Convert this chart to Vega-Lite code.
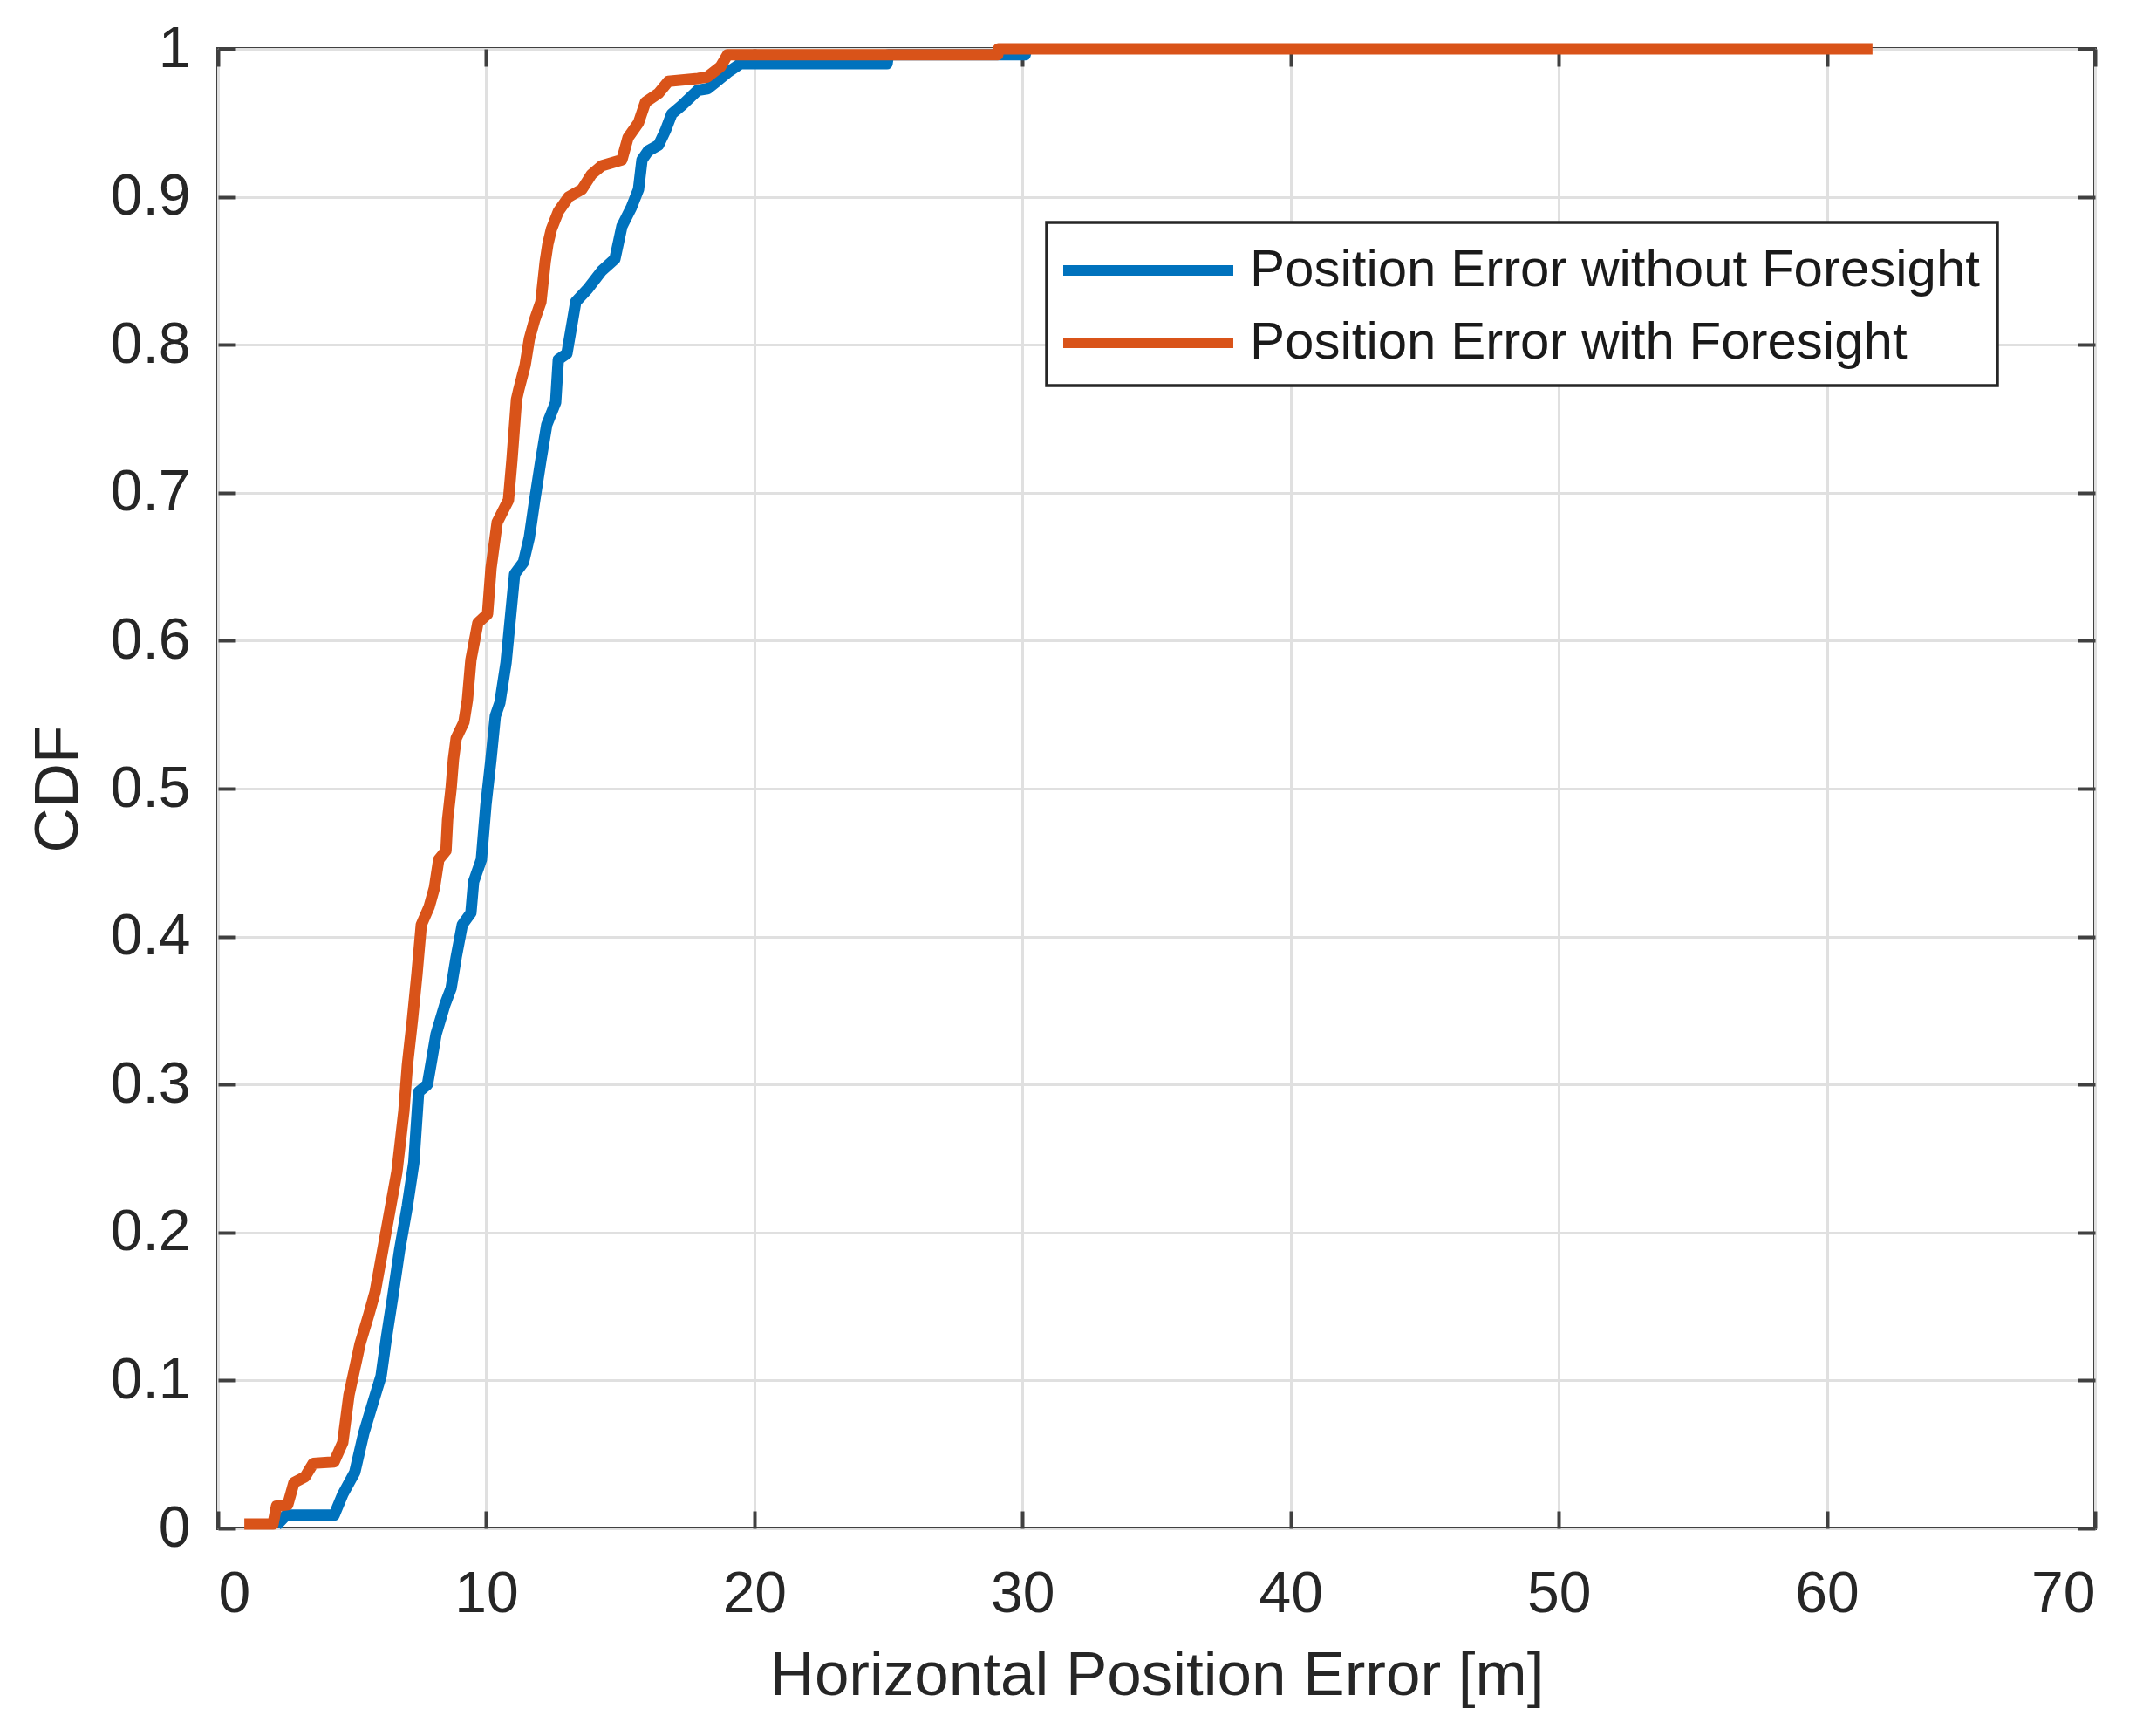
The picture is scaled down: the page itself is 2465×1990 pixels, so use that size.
{
  "$schema": "https://vega.github.io/schema/vega-lite/v6.json",
  "width": 2152,
  "height": 1696,
  "autosize": {"type": "none"},
  "padding": {"left": 250, "top": 56, "right": 63, "bottom": 238},
  "background": "white",
  "data": {"values": [
    {"e": 2.18, "cdf": 0.002, "s": "Position Error without Foresight"},
    {"e": 2.54, "cdf": 0.009, "s": "Position Error without Foresight"},
    {"e": 4.33, "cdf": 0.009, "s": "Position Error without Foresight"},
    {"e": 4.65, "cdf": 0.023, "s": "Position Error without Foresight"},
    {"e": 5.1, "cdf": 0.038, "s": "Position Error without Foresight"},
    {"e": 5.43, "cdf": 0.064, "s": "Position Error without Foresight"},
    {"e": 5.76, "cdf": 0.084, "s": "Position Error without Foresight"},
    {"e": 6.08, "cdf": 0.103, "s": "Position Error without Foresight"},
    {"e": 6.28, "cdf": 0.129, "s": "Position Error without Foresight"},
    {"e": 6.51, "cdf": 0.156, "s": "Position Error without Foresight"},
    {"e": 6.77, "cdf": 0.188, "s": "Position Error without Foresight"},
    {"e": 7.06, "cdf": 0.218, "s": "Position Error without Foresight"},
    {"e": 7.3, "cdf": 0.247, "s": "Position Error without Foresight"},
    {"e": 7.48, "cdf": 0.295, "s": "Position Error without Foresight"},
    {"e": 7.81, "cdf": 0.3, "s": "Position Error without Foresight"},
    {"e": 8.13, "cdf": 0.334, "s": "Position Error without Foresight"},
    {"e": 8.46, "cdf": 0.354, "s": "Position Error without Foresight"},
    {"e": 8.69, "cdf": 0.365, "s": "Position Error without Foresight"},
    {"e": 8.88, "cdf": 0.386, "s": "Position Error without Foresight"},
    {"e": 9.11, "cdf": 0.408, "s": "Position Error without Foresight"},
    {"e": 9.43, "cdf": 0.416, "s": "Position Error without Foresight"},
    {"e": 9.53, "cdf": 0.437, "s": "Position Error without Foresight"},
    {"e": 9.82, "cdf": 0.452, "s": "Position Error without Foresight"},
    {"e": 9.99, "cdf": 0.489, "s": "Position Error without Foresight"},
    {"e": 10.18, "cdf": 0.52, "s": "Position Error without Foresight"},
    {"e": 10.34, "cdf": 0.549, "s": "Position Error without Foresight"},
    {"e": 10.51, "cdf": 0.558, "s": "Position Error without Foresight"},
    {"e": 10.74, "cdf": 0.585, "s": "Position Error without Foresight"},
    {"e": 11.06, "cdf": 0.645, "s": "Position Error without Foresight"},
    {"e": 11.39, "cdf": 0.653, "s": "Position Error without Foresight"},
    {"e": 11.61, "cdf": 0.67, "s": "Position Error without Foresight"},
    {"e": 11.81, "cdf": 0.695, "s": "Position Error without Foresight"},
    {"e": 12.04, "cdf": 0.722, "s": "Position Error without Foresight"},
    {"e": 12.26, "cdf": 0.746, "s": "Position Error without Foresight"},
    {"e": 12.59, "cdf": 0.761, "s": "Position Error without Foresight"},
    {"e": 12.69, "cdf": 0.79, "s": "Position Error without Foresight"},
    {"e": 13.01, "cdf": 0.794, "s": "Position Error without Foresight"},
    {"e": 13.34, "cdf": 0.829, "s": "Position Error without Foresight"},
    {"e": 13.8, "cdf": 0.838, "s": "Position Error without Foresight"},
    {"e": 14.31, "cdf": 0.85, "s": "Position Error without Foresight"},
    {"e": 14.8, "cdf": 0.858, "s": "Position Error without Foresight"},
    {"e": 15.06, "cdf": 0.88, "s": "Position Error without Foresight"},
    {"e": 15.42, "cdf": 0.893, "s": "Position Error without Foresight"},
    {"e": 15.68, "cdf": 0.905, "s": "Position Error without Foresight"},
    {"e": 15.81, "cdf": 0.925, "s": "Position Error without Foresight"},
    {"e": 16.04, "cdf": 0.931, "s": "Position Error without Foresight"},
    {"e": 16.43, "cdf": 0.935, "s": "Position Error without Foresight"},
    {"e": 16.69, "cdf": 0.945, "s": "Position Error without Foresight"},
    {"e": 16.92, "cdf": 0.956, "s": "Position Error without Foresight"},
    {"e": 17.31, "cdf": 0.962, "s": "Position Error without Foresight"},
    {"e": 17.89, "cdf": 0.972, "s": "Position Error without Foresight"},
    {"e": 18.25, "cdf": 0.973, "s": "Position Error without Foresight"},
    {"e": 18.6, "cdf": 0.978, "s": "Position Error without Foresight"},
    {"e": 19.0, "cdf": 0.984, "s": "Position Error without Foresight"},
    {"e": 19.49, "cdf": 0.99, "s": "Position Error without Foresight"},
    {"e": 24.95, "cdf": 0.99, "s": "Position Error without Foresight"},
    {"e": 25.0, "cdf": 0.996, "s": "Position Error without Foresight"},
    {"e": 30.1, "cdf": 0.996, "s": "Position Error without Foresight"},
    {"e": 30.15, "cdf": 1.0, "s": "Position Error without Foresight"},
    {"e": 0.98, "cdf": 0.003, "s": "Position Error with Foresight"},
    {"e": 2.05, "cdf": 0.003, "s": "Position Error with Foresight"},
    {"e": 2.18, "cdf": 0.015, "s": "Position Error with Foresight"},
    {"e": 2.6, "cdf": 0.016, "s": "Position Error with Foresight"},
    {"e": 2.83, "cdf": 0.031, "s": "Position Error with Foresight"},
    {"e": 3.25, "cdf": 0.035, "s": "Position Error with Foresight"},
    {"e": 3.55, "cdf": 0.044, "s": "Position Error with Foresight"},
    {"e": 4.33, "cdf": 0.045, "s": "Position Error with Foresight"},
    {"e": 4.65, "cdf": 0.058, "s": "Position Error with Foresight"},
    {"e": 4.88, "cdf": 0.09, "s": "Position Error with Foresight"},
    {"e": 5.3, "cdf": 0.125, "s": "Position Error with Foresight"},
    {"e": 5.63, "cdf": 0.145, "s": "Position Error with Foresight"},
    {"e": 5.86, "cdf": 0.16, "s": "Position Error with Foresight"},
    {"e": 6.18, "cdf": 0.192, "s": "Position Error with Foresight"},
    {"e": 6.41, "cdf": 0.215, "s": "Position Error with Foresight"},
    {"e": 6.67, "cdf": 0.241, "s": "Position Error with Foresight"},
    {"e": 6.93, "cdf": 0.282, "s": "Position Error with Foresight"},
    {"e": 7.06, "cdf": 0.313, "s": "Position Error with Foresight"},
    {"e": 7.25, "cdf": 0.344, "s": "Position Error with Foresight"},
    {"e": 7.42, "cdf": 0.375, "s": "Position Error with Foresight"},
    {"e": 7.58, "cdf": 0.408, "s": "Position Error with Foresight"},
    {"e": 7.87, "cdf": 0.42, "s": "Position Error with Foresight"},
    {"e": 8.07, "cdf": 0.433, "s": "Position Error with Foresight"},
    {"e": 8.23, "cdf": 0.452, "s": "Position Error with Foresight"},
    {"e": 8.5, "cdf": 0.458, "s": "Position Error with Foresight"},
    {"e": 8.56, "cdf": 0.479, "s": "Position Error with Foresight"},
    {"e": 8.69, "cdf": 0.5, "s": "Position Error with Foresight"},
    {"e": 8.78, "cdf": 0.52, "s": "Position Error with Foresight"},
    {"e": 8.88, "cdf": 0.534, "s": "Position Error with Foresight"},
    {"e": 9.17, "cdf": 0.545, "s": "Position Error with Foresight"},
    {"e": 9.3, "cdf": 0.56, "s": "Position Error with Foresight"},
    {"e": 9.43, "cdf": 0.587, "s": "Position Error with Foresight"},
    {"e": 9.69, "cdf": 0.612, "s": "Position Error with Foresight"},
    {"e": 10.05, "cdf": 0.618, "s": "Position Error with Foresight"},
    {"e": 10.18, "cdf": 0.649, "s": "Position Error with Foresight"},
    {"e": 10.41, "cdf": 0.68, "s": "Position Error with Foresight"},
    {"e": 10.83, "cdf": 0.695, "s": "Position Error with Foresight"},
    {"e": 10.96, "cdf": 0.722, "s": "Position Error with Foresight"},
    {"e": 11.13, "cdf": 0.763, "s": "Position Error with Foresight"},
    {"e": 11.22, "cdf": 0.77, "s": "Position Error with Foresight"},
    {"e": 11.45, "cdf": 0.786, "s": "Position Error with Foresight"},
    {"e": 11.61, "cdf": 0.804, "s": "Position Error with Foresight"},
    {"e": 11.81, "cdf": 0.817, "s": "Position Error with Foresight"},
    {"e": 12.04, "cdf": 0.829, "s": "Position Error with Foresight"},
    {"e": 12.2, "cdf": 0.856, "s": "Position Error with Foresight"},
    {"e": 12.3, "cdf": 0.868, "s": "Position Error with Foresight"},
    {"e": 12.43, "cdf": 0.878, "s": "Position Error with Foresight"},
    {"e": 12.69, "cdf": 0.89, "s": "Position Error with Foresight"},
    {"e": 13.08, "cdf": 0.9, "s": "Position Error with Foresight"},
    {"e": 13.57, "cdf": 0.905, "s": "Position Error with Foresight"},
    {"e": 13.92, "cdf": 0.915, "s": "Position Error with Foresight"},
    {"e": 14.31, "cdf": 0.921, "s": "Position Error with Foresight"},
    {"e": 15.06, "cdf": 0.925, "s": "Position Error with Foresight"},
    {"e": 15.29, "cdf": 0.94, "s": "Position Error with Foresight"},
    {"e": 15.68, "cdf": 0.95, "s": "Position Error with Foresight"},
    {"e": 15.94, "cdf": 0.964, "s": "Position Error with Foresight"},
    {"e": 16.43, "cdf": 0.97, "s": "Position Error with Foresight"},
    {"e": 16.79, "cdf": 0.978, "s": "Position Error with Foresight"},
    {"e": 17.9, "cdf": 0.98, "s": "Position Error with Foresight"},
    {"e": 18.25, "cdf": 0.981, "s": "Position Error with Foresight"},
    {"e": 18.74, "cdf": 0.988, "s": "Position Error with Foresight"},
    {"e": 19.0, "cdf": 0.996, "s": "Position Error with Foresight"},
    {"e": 29.08, "cdf": 0.996, "s": "Position Error with Foresight"},
    {"e": 29.1, "cdf": 1.0, "s": "Position Error with Foresight"},
    {"e": 61.7, "cdf": 1.0, "s": "Position Error with Foresight"}
  ]},
  "layer": [
    {
      "mark": {"type": "line", "strokeWidth": 13, "strokeJoin": "round", "strokeCap": "butt", "clip": false},
      "encoding": {
        "x": {"field": "e", "type": "quantitative",
              "scale": {"domain": [0, 70], "nice": false, "zero": false},
              "axis": {"orient": "bottom", "values": [0, 10, 20, 30, 40, 50, 60, 70], "grid": true,
                       "title": "Horizontal Position Error [m]", "labelPadding": 63, "titlePadding": 26}},
        "y": {"field": "cdf", "type": "quantitative",
              "scale": {"domain": [0, 1], "nice": false, "zero": false},
              "axis": {"orient": "left", "values": [0, 0.1, 0.2, 0.3, 0.4, 0.5, 0.6, 0.7, 0.8, 0.9, 1], "format": "~g", "grid": true,
                       "title": "CDF", "labelPadding": 52, "titlePadding": 23}},
        "color": {"field": "s", "type": "nominal",
                  "scale": {"domain": ["Position Error without Foresight", "Position Error with Foresight"], "range": ["#0072BD", "#D95319"]},
                  "legend": {"title": null}}
      }
    },
    {
      "mark": {"type": "line", "opacity": 0},
      "encoding": {
        "x": {"field": "e", "type": "quantitative",
              "axis": {"orient": "top", "values": [0, 10, 20, 30, 40, 50, 60, 70], "grid": false, "labels": false, "title": null}},
        "y": {"field": "cdf", "type": "quantitative",
              "axis": {"orient": "right", "values": [0, 0.1, 0.2, 0.3, 0.4, 0.5, 0.6, 0.7, 0.8, 0.9, 1], "grid": false, "labels": false, "title": null}}
      }
    }
  ],
  "resolve": {"axis": {"x": "independent", "y": "independent"}},
  "config": {
    "view": {"stroke": "#404040", "strokeWidth": 4},
    "axis": {
      "domain": false,
      "gridColor": "#e0e0e0", "gridWidth": 3,
      "tickColor": "#404040", "tickWidth": 4, "tickSize": -20,
      "labelFont": "Liberation Sans", "labelFontSize": 66, "labelColor": "#262626",
      "titleFont": "Liberation Sans", "titleFontSize": 71, "titleFontWeight": "normal", "titleColor": "#262626"
    },
    "legend": {
      "orient": "none", "legendX": 950, "legendY": 199,
      "padding": 19, "strokeColor": "#262626", "strokeWidth": 3.5, "fillColor": "white", "cornerRadius": 0,
      "symbolType": "M -1.2 0 L 5.3 0", "symbolSize": 3600, "symbolStrokeWidth": 12,
      "labelFont": "Liberation Sans", "labelFontSize": 60, "labelColor": "#1a1a1a", "labelOffset": 142, "labelLimit": 0,
      "rowPadding": 17
    }
  }
}
